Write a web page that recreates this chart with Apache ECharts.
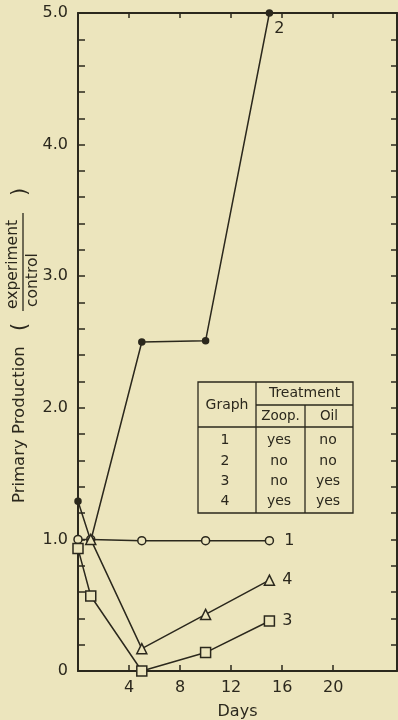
<!DOCTYPE html>
<html>
<head>
<meta charset="utf-8">
<script src="https://cdn.jsdelivr.net/npm/echarts@6/dist/echarts.min.js"></script>
<style>
html,body{margin:0;padding:0;background:#ECE5BD;}
#c{width:398px;height:720px;}
</style>
</head>
<body>
<div id="c"></div>
<script>
// ---- data ----
var days = [0, 1, 5, 10, 15];
var days4 = [1, 5, 10, 15];
var graph1 = [1.0, 1.0, 0.99, 0.99, 0.99];
var graph2 = [1.29, 0.99, 2.5, 2.51, 5.0];
var graph3 = [0.93, 0.57, 0.0, 0.14, 0.38];
var graph4 = [1.0, 0.17, 0.43, 0.69];
var xTicks = [4, 8, 12, 16, 20];
var yLabels = [0, 1, 2, 3, 4, 5];
var tableHead = ['Graph', 'Treatment', 'Zoop.', 'Oil'];
var tableRows = [['1', 'yes', 'no'], ['2', 'no', 'no'], ['3', 'no', 'yes'], ['4', 'yes', 'yes']];
var yTitle = 'Primary Production';
var yFracTop = 'experiment';
var yFracBottom = 'control';
var xTitle = 'Days';

var INK = '#2b281d';
var BG = '#ECE5BD';
var FONT = 'DejaVu Sans';

function pairs(xs, ys) { return xs.map(function (x, i) { return [x, ys[i]]; }); }

function mkSeries(name, xs, ys, symbol, size, fill, lblOffset) {
  var d = pairs(xs, ys);
  return {
    type: 'line', name: name, data: d, symbol: symbol, symbolSize: size,
    showAllSymbol: true,
    lineStyle: { color: INK, width: 1.5 },
    itemStyle: { color: fill, borderColor: INK, borderWidth: 1.5 },
    label: {
      show: true, position: 'right', offset: lblOffset,
      formatter: function (p) { return p.dataIndex === d.length - 1 ? name : ''; },
      fontFamily: FONT, fontSize: 16, color: INK
    },
    z: 3
  };
}

// table graphic
var tx0 = 198, tx1 = 353, ty0 = 382, ty1 = 513, tcol1 = 256, tcol2 = 305, tsub = 405, thead = 427;
var rowY = [440, 461, 481, 501];
var colX = [225, 279, 328];
var tg = [];
function ln(x1, y1, x2, y2, w) { tg.push({ type: 'line', shape: { x1: x1, y1: y1, x2: x2, y2: y2 }, style: { stroke: INK, lineWidth: w || 1.3 } }); }
function tx(t, x, y, fs) { tg.push({ type: 'text', x: x, y: y, style: { text: t, fill: INK, font: (fs || 14) + 'px "' + FONT + '"', textAlign: 'center', textVerticalAlign: 'middle' } }); }
tg.push({ type: 'rect', shape: { x: tx0, y: ty0, width: tx1 - tx0, height: ty1 - ty0 }, style: { fill: BG, stroke: INK, lineWidth: 1.3 } });
ln(tcol1, ty0, tcol1, ty1);
ln(tcol1, tsub, tx1, tsub);
ln(tx0, thead, tx1, thead, 1.6);
ln(tcol2, tsub, tcol2, ty1);
tx(tableHead[0], (tx0 + tcol1) / 2, 405);
tx(tableHead[1], (tcol1 + tx1) / 2, 393);
tx(tableHead[2], (tcol1 + tcol2) / 2, 416, 13.5);
tx(tableHead[3], (tcol2 + tx1) / 2, 416, 13.5);
tableRows.forEach(function (r, i) { r.forEach(function (c, j) { tx(c, colX[j], rowY[i]); }); });

// y-axis title group (rotated)
var ytg = {
  type: 'group', x: 20, y: 503, rotation: Math.PI / 2,
  children: [
    { type: 'text', x: 0, y: 0, style: { text: yTitle, fill: INK, font: '16.5px "' + FONT + '"', textAlign: 'left', textVerticalAlign: 'middle' } },
    { type: 'text', x: 176, y: 1, style: { text: '(', fill: INK, font: '21px "' + FONT + '"', textAlign: 'center', textVerticalAlign: 'middle' } },
    { type: 'text', x: 194, y: -7, style: { text: yFracTop, fill: INK, font: '15.5px "' + FONT + '"', textAlign: 'left', textVerticalAlign: 'middle' } },
    { type: 'line', shape: { x1: 192, y1: 3, x2: 290, y2: 3 }, style: { stroke: INK, lineWidth: 1.3 } },
    { type: 'text', x: 196, y: 13, style: { text: yFracBottom, fill: INK, font: '15.5px "' + FONT + '"', textAlign: 'left', textVerticalAlign: 'middle' } },
    { type: 'text', x: 311, y: 1, style: { text: ')', fill: INK, font: '21px "' + FONT + '"', textAlign: 'center', textVerticalAlign: 'middle' } }
  ]
};

var chart = echarts.init(document.getElementById('c'), null, { renderer: 'canvas' });
var axisLineStyle = { color: INK, width: 2 };
chart.setOption({
  backgroundColor: BG,
  animation: false,
  grid: { left: 78, right: 1, top: 13, bottom: 49, containLabel: false, outerBoundsMode: 'none' },
  xAxis: [{
    type: 'value', position: 'bottom', min: 0, max: 25, interval: 4,
    axisLine: { show: true, onZero: false, lineStyle: axisLineStyle },
    axisTick: { show: true, inside: true, length: 6, customValues: xTicks, lineStyle: { color: INK, width: 1.5 } },
    axisLabel: { customValues: xTicks, fontFamily: FONT, fontSize: 16, color: INK, margin: 9 },
    splitLine: { show: false },
    name: xTitle, nameLocation: 'middle', nameGap: 33,
    nameTextStyle: { fontFamily: FONT, fontSize: 16, color: INK }
  }, {
    type: 'value', position: 'top', min: 0, max: 25, interval: 4,
    axisLine: { show: true, onZero: false, lineStyle: axisLineStyle },
    axisTick: { show: true, inside: true, length: 5, customValues: xTicks, lineStyle: { color: INK, width: 1.5 } },
    axisLabel: { show: false }, splitLine: { show: false }
  }],
  yAxis: [{
    type: 'value', position: 'left', min: 0, max: 5, interval: 0.2,
    axisLine: { show: true, onZero: false, lineStyle: axisLineStyle },
    axisTick: { show: true, inside: true, length: 7, lineStyle: { color: INK, width: 1.5 } },
    axisLabel: {
      customValues: yLabels, fontFamily: FONT, fontSize: 16, color: INK, margin: 10,
      formatter: function (v) { return v === 0 ? '0' : v.toFixed(1); }
    },
    splitLine: { show: false }
  }, {
    type: 'value', position: 'right', min: 0, max: 5, interval: 0.2,
    axisLine: { show: true, onZero: false, lineStyle: axisLineStyle },
    axisTick: { show: true, inside: true, length: 6, lineStyle: { color: INK, width: 1.5 } },
    axisLabel: { show: false }, splitLine: { show: false }
  }],
  graphic: [ytg].concat(tg),
  series: [
    mkSeries('1', days, graph1, 'circle', 8, BG, [5, 0]),
    mkSeries('2', days, graph2, 'circle', 6, INK, [-4, 16]),
    mkSeries('3', days, graph3, 'rect', 10, BG, [2, 0]),
    mkSeries('4', days4, graph4, 'triangle', 10, BG, [2, 0])
  ]
});
</script>
</body>
</html>
